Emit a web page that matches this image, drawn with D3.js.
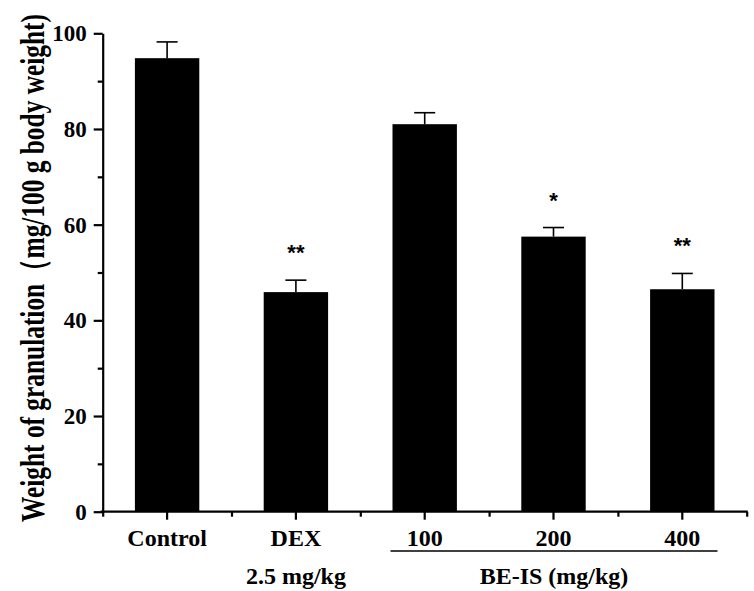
<!DOCTYPE html>
<html>
<head>
<meta charset="utf-8">
<script src="https://cdn.jsdelivr.net/npm/d3@7"></script>
<style>
  html, body { margin: 0; padding: 0; background: #fff; }
  svg { display: block; }
  text { font-family: "Liberation Serif", "Times New Roman", serif; font-weight: bold; fill: #000; }
</style>
</head>
<body>
<svg id="chart" width="754" height="591"></svg>
<script>
// ---- data ----
const categories = ["Control", "DEX", "100", "200", "400"];
const subLabels = ["", "2.5 mg/kg", "", "", ""];
const values = [94.8, 45.9, 81.0, 57.5, 46.5];
const errors = [3.4, 2.5, 2.4, 1.9, 3.3];
const significance = ["", "**", "", "*", "**"];
const yTicks = [0, 20, 40, 60, 80, 100];
const yMinorTicks = [10, 30, 50, 70, 90];
const groupLabel = "BE-IS (mg/kg)";
const groupMembers = ["100", "200", "400"];
const yTitle = "Weight of granulation（mg/100 g body weight)";

// ---- layout ----
const svg = d3.select("#chart");
const plotLeft = 102.7, plotRight = 746.7, plotTop = 33.3, plotBottom = 511.7;

const x = d3.scaleBand().domain(categories).range([plotLeft, plotRight])
  .paddingInner(0.5).paddingOuter(0.25);
const xEdges = d3.scaleLinear().domain([0, categories.length]).range([plotLeft, plotRight]);
const y = d3.scaleLinear().domain([0, 100]).range([plotBottom, plotTop]);

// bars
svg.append("g").selectAll("rect").data(categories).join("rect")
  .attr("x", d => x(d))
  .attr("width", x.bandwidth())
  .attr("y", (d, i) => y(values[i]))
  .attr("height", (d, i) => y(0) - y(values[i]))
  .attr("fill", "#000");

// error bars
const eb = svg.append("g").attr("stroke", "#000").attr("stroke-width", 1.6);
categories.forEach((c, i) => {
  const cx = x(c) + x.bandwidth() / 2;
  eb.append("line").attr("x1", cx).attr("x2", cx)
    .attr("y1", y(values[i])).attr("y2", y(values[i] + errors[i]));
  eb.append("line").attr("x1", cx - 10.5).attr("x2", cx + 10.5)
    .attr("y1", y(values[i] + errors[i])).attr("y2", y(values[i] + errors[i]));
});

// significance stars
svg.append("g").selectAll("text").data(categories).join("text")
  .attr("x", d => x(d) + x.bandwidth() / 2)
  .attr("y", (d, i) => y(values[i] + errors[i]) - 20)
  .attr("text-anchor", "middle")
  .style("font-family", "'Liberation Sans', Arial, sans-serif")
  .style("font-size", "22px")
  .text((d, i) => significance[i]);

// y axis
const yAxis = svg.append("g").attr("transform", `translate(${plotLeft},0)`)
  .call(d3.axisLeft(y).tickValues(yTicks).tickSize(9).tickSizeOuter(0).tickPadding(7));
const yMinor = svg.append("g").attr("transform", `translate(${plotLeft},0)`)
  .call(d3.axisLeft(y).tickValues(yMinorTicks).tickSize(5).tickSizeOuter(0).tickFormat(""));
[yAxis, yMinor].forEach(g => {
  g.select(".domain").attr("stroke-width", 2.2);
  g.selectAll(".tick line").attr("stroke-width", 2.2);
});
yMinor.select(".domain").remove();
yAxis.selectAll(".tick text").style("font-size", "23px").style("font-family", "'Liberation Serif', serif").style("font-weight", "bold");

// x axis
const xAxis = svg.append("g").attr("transform", `translate(0,${plotBottom})`)
  .call(d3.axisBottom(x).tickSize(8).tickSizeOuter(0).tickPadding(9));
const xMinor = svg.append("g").attr("transform", `translate(0,${plotBottom})`)
  .call(d3.axisBottom(xEdges).tickValues(d3.range(0, categories.length + 1)).tickSize(5).tickSizeOuter(0).tickFormat(""));
xMinor.select(".domain").remove();
xAxis.select(".domain").attr("stroke-width", 2.2).attr("d", `M${plotLeft - 2},0H${plotRight + 1}`);
xAxis.selectAll(".tick line").attr("stroke-width", 2.2);
xMinor.selectAll(".tick line").attr("stroke-width", 2.2);
xAxis.selectAll(".tick text").style("font-size", "24px").style("font-family", "'Liberation Serif', serif").style("font-weight", "bold");

// second-line labels
svg.append("g").selectAll("text").data(categories).join("text")
  .attr("x", d => x(d) + x.bandwidth() / 2)
  .attr("y", 584)
  .attr("text-anchor", "middle")
  .style("font-size", "24px")
  .text((d, i) => subLabels[i]);

// group line + label
const gx0 = x(groupMembers[0]) - 2;
const gx1 = x(groupMembers[groupMembers.length - 1]) + x.bandwidth() + 3;
svg.append("line").attr("x1", gx0).attr("x2", gx1).attr("y1", 551).attr("y2", 551)
  .attr("stroke", "#000").attr("stroke-width", 1.3);
svg.append("text").attr("x", (gx0 + gx1) / 2).attr("y", 584)
  .attr("text-anchor", "middle").style("font-size", "24px").text(groupLabel);

// y title (tall, condensed glyphs as in the reference)
const titleG = svg.append("g").attr("transform", `translate(44,268) rotate(-90)`);
const titleT = titleG.append("text")
  .attr("text-anchor", "middle")
  .style("font-size", "34px")
  .text(yTitle);
const natural = titleT.node().getComputedTextLength();
titleT.attr("transform", `scale(${508 / natural},1)`);
</script>
</body>
</html>
